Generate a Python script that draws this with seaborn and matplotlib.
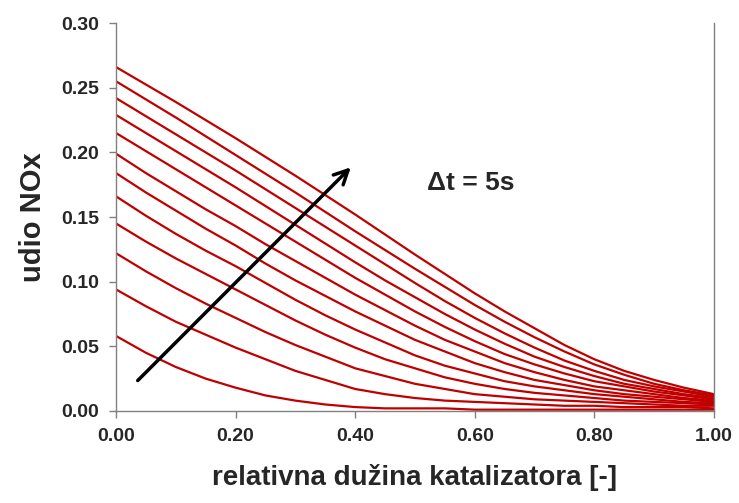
import numpy as np
import pandas as pd
import matplotlib
matplotlib.use("Agg")
import matplotlib.pyplot as plt
import seaborn as sns

# relative catalyst length
x = [0.00, 0.05, 0.10, 0.15, 0.20, 0.25, 0.30, 0.35, 0.40, 0.45, 0.50,
     0.55, 0.60, 0.65, 0.70, 0.75, 0.80, 0.85, 0.90, 0.95, 1.00]

# NOx fraction profiles, one per time step (dt = 5 s), newest first
c1 = [0.266, 0.2525, 0.239, 0.225, 0.211, 0.1965, 0.182, 0.167, 0.152, 0.1365, 0.121,
      0.106, 0.091, 0.077, 0.064, 0.051, 0.040, 0.031, 0.024, 0.018, 0.013]
c2 = [0.255, 0.241, 0.227, 0.2125, 0.198, 0.1835, 0.169, 0.154, 0.139, 0.1245, 0.110,
      0.096, 0.082, 0.069, 0.057, 0.046, 0.036, 0.028, 0.021, 0.016, 0.012]
c3 = [0.242, 0.228, 0.214, 0.200, 0.186, 0.1715, 0.157, 0.1425, 0.128, 0.1135, 0.099,
      0.085, 0.072, 0.060, 0.049, 0.039, 0.031, 0.024, 0.019, 0.015, 0.011]
c4 = [0.229, 0.215, 0.201, 0.187, 0.173, 0.1585, 0.144, 0.1295, 0.115, 0.101, 0.088,
      0.075, 0.063, 0.052, 0.042, 0.034, 0.027, 0.021, 0.017, 0.013, 0.010]
c5 = [0.215, 0.201, 0.187, 0.173, 0.159, 0.145, 0.131, 0.117, 0.103, 0.090, 0.077,
      0.065, 0.054, 0.044, 0.036, 0.029, 0.023, 0.019, 0.015, 0.012, 0.009]
c6 = [0.199, 0.184, 0.170, 0.156, 0.143, 0.129, 0.116, 0.103, 0.090, 0.078, 0.066,
      0.055, 0.046, 0.037, 0.030, 0.024, 0.019, 0.016, 0.013, 0.010, 0.008]
c7 = [0.184, 0.169, 0.155, 0.141, 0.128, 0.114, 0.101, 0.089, 0.077, 0.066, 0.055,
      0.046, 0.037, 0.030, 0.024, 0.020, 0.016, 0.013, 0.011, 0.009, 0.007]
c8 = [0.166, 0.151, 0.137, 0.124, 0.112, 0.099, 0.086, 0.074, 0.063, 0.053, 0.043,
      0.035, 0.029, 0.023, 0.019, 0.016, 0.013, 0.011, 0.009, 0.007, 0.006]
c9 = [0.145, 0.131, 0.118, 0.106, 0.094, 0.082, 0.070, 0.059, 0.049, 0.040, 0.033,
      0.026, 0.021, 0.017, 0.014, 0.012, 0.010, 0.008, 0.007, 0.006, 0.005]
c10 = [0.122, 0.108, 0.095, 0.083, 0.072, 0.061, 0.051, 0.042, 0.033, 0.027, 0.021,
       0.017, 0.013, 0.011, 0.009, 0.008, 0.007, 0.006, 0.005, 0.004, 0.004]
c11 = [0.094, 0.081, 0.069, 0.059, 0.049, 0.040, 0.031, 0.024, 0.017, 0.013, 0.010,
       0.008, 0.007, 0.006, 0.005, 0.004, 0.004, 0.003, 0.003, 0.003, 0.002]
c12 = [0.058, 0.045, 0.034, 0.025, 0.018, 0.012, 0.008, 0.005, 0.003, 0.002, 0.002,
       0.002, 0.001, 0.001, 0.001, 0.001, 0.001, 0.001, 0.001, 0.001, 0.001]
curves = [c1, c2, c3, c4, c5, c6, c7, c8, c9, c10, c11, c12]

xticks = [0.0, 0.2, 0.4, 0.6, 0.8, 1.0]
yticks = [0.00, 0.05, 0.10, 0.15, 0.20, 0.25, 0.30]

rows = []
for i, c in enumerate(curves):
    for xi, yi in zip(x, c):
        rows.append({"x": xi, "y": yi, "krivulja": i})
df = pd.DataFrame(rows)

sns.set_style("white")
plt.rcParams["font.family"] = ["Liberation Sans", "DejaVu Sans"]

fig = plt.figure(figsize=(7.39, 5.03), dpi=100)
ax = fig.add_axes([0.157, 0.183, 0.809, 0.771])

sns.lineplot(data=df, x="x", y="y", hue="krivulja", palette=["#C00000"] * len(curves),
             linewidth=1.6, legend=False, ax=ax, sort=False)

ax.set_xlim(0, 1)
ax.set_ylim(0, 0.30)
ax.set_xticks(xticks)
ax.set_yticks(yticks)
ax.set_xticklabels([f"{v:.2f}" for v in xticks], fontsize=14, fontweight="bold")
ax.set_yticklabels([f"{v:.2f}" for v in yticks], fontsize=14, fontweight="bold")
ax.tick_params(axis="both", direction="out", length=5, width=1, color="#808080",
               bottom=True, left=True, pad=7)

for s in ["left", "bottom", "right"]:
    ax.spines[s].set_color("#808080")
    ax.spines[s].set_linewidth(1)
ax.spines["top"].set_visible(False)

ax.set_xlabel("relativna dužina katalizatora [-]", fontsize=20, fontweight="bold", labelpad=14)
ax.set_ylabel("udio NOx", fontsize=21, fontweight="bold", labelpad=10)

ax.annotate("", xy=(0.396, 0.190), xytext=(0.033, 0.022),
            arrowprops=dict(arrowstyle="->", color="black", lw=2.5, mutation_scale=25))
ax.text(0.52, 0.176, "Δt = 5s", fontsize=19, fontweight="bold", va="center", ha="left")

fig.savefig("out.png", dpi=100)
